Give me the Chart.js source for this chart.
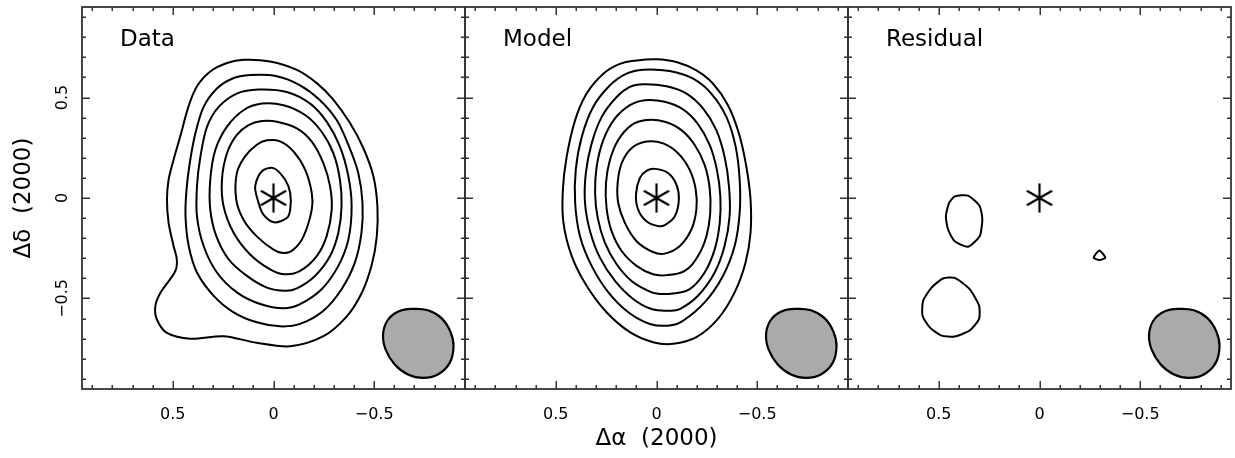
<!DOCTYPE html>
<html>
<head>
<script src="https://cdn.jsdelivr.net/npm/chart.js@4/dist/chart.umd.min.js"></script>
<style>
	body { margin: 0; background: #fff; }
	#wrap { position: relative; width: 1235px; height: 458px; }
	#wrap canvas { position: absolute; left: 0; top: 0; }
</style>
</head>
<body>
<div id="wrap">
	<canvas id="p0" width="1235" height="458"></canvas>
	<canvas id="p1" width="1235" height="458"></canvas>
	<canvas id="p2" width="1235" height="458"></canvas>
</div>
<script>
// offsets in arcsec, x axis runs east (+) to west (-)
var axisRange = [-0.951, 0.951];
var tickStep = 0.1;
var panelNames = ['Data', 'Model', 'Residual'];
var xTitle = 'Δα  (2000)';
var yTitle = 'Δδ  (2000)';
var sourcePos = [[0, 0]];

// contours, [dRA, dDec]
var dataC1 = [[0.149,0.688],[0.017,0.680],[-0.116,0.638],[-0.215,0.572],[-0.298,0.489],[-0.380,0.373],[-0.446,0.249],[-0.496,0.108],[-0.516,-0.041],[-0.513,-0.191],[-0.488,-0.332],[-0.438,-0.473],[-0.364,-0.589],[-0.248,-0.688],[-0.083,-0.738],[0.083,-0.721],[0.248,-0.688],[0.413,-0.701],[0.529,-0.672],[0.579,-0.605],[0.587,-0.539],[0.562,-0.473],[0.488,-0.365],[0.480,-0.307],[0.496,-0.240],[0.521,-0.124],[0.529,-0.008],[0.521,0.091],[0.496,0.191],[0.463,0.307],[0.422,0.456],[0.380,0.556],[0.314,0.630],[0.231,0.672]];
var dataC2 = [[0.116,0.612],[-0.017,0.606],[-0.132,0.561],[-0.231,0.487],[-0.314,0.388],[-0.372,0.264],[-0.421,0.124],[-0.442,-0.025],[-0.437,-0.173],[-0.404,-0.322],[-0.338,-0.454],[-0.248,-0.561],[-0.132,-0.627],[-0.033,-0.639],[0.083,-0.619],[0.198,-0.569],[0.297,-0.487],[0.380,-0.371],[0.421,-0.239],[0.437,-0.091],[0.432,0.041],[0.416,0.173],[0.388,0.322],[0.347,0.454],[0.281,0.545],[0.206,0.594]];
var dataC3 = [[0.074,0.540],[-0.066,0.528],[-0.182,0.470],[-0.264,0.380],[-0.330,0.256],[-0.372,0.107],[-0.388,-0.041],[-0.372,-0.206],[-0.322,-0.338],[-0.239,-0.454],[-0.132,-0.528],[-0.050,-0.549],[0.066,-0.528],[0.182,-0.470],[0.281,-0.371],[0.347,-0.239],[0.380,-0.091],[0.380,0.058],[0.363,0.206],[0.330,0.355],[0.272,0.454],[0.182,0.520]];
var dataC4 = [[0.058,0.470],[-0.050,0.462],[-0.157,0.413],[-0.239,0.330],[-0.297,0.223],[-0.330,0.091],[-0.338,-0.041],[-0.322,-0.173],[-0.281,-0.289],[-0.206,-0.388],[-0.116,-0.450],[-0.058,-0.462],[0.033,-0.446],[0.132,-0.388],[0.223,-0.305],[0.284,-0.190],[0.314,-0.058],[0.314,0.091],[0.289,0.239],[0.231,0.355],[0.149,0.437]];
var dataC5 = [[0.058,0.383],[-0.017,0.380],[-0.116,0.347],[-0.190,0.281],[-0.248,0.173],[-0.281,0.058],[-0.289,-0.058],[-0.264,-0.190],[-0.215,-0.289],[-0.132,-0.363],[-0.058,-0.380],[0.017,-0.355],[0.116,-0.281],[0.198,-0.173],[0.248,-0.041],[0.256,0.091],[0.231,0.223],[0.182,0.314],[0.124,0.363]];
var dataC6 = [[0.033,0.287],[-0.033,0.282],[-0.099,0.232],[-0.157,0.141],[-0.190,0.025],[-0.190,-0.058],[-0.149,-0.191],[-0.099,-0.257],[-0.050,-0.274],[0.000,-0.257],[0.083,-0.191],[0.149,-0.108],[0.185,-0.008],[0.182,0.124],[0.141,0.207],[0.083,0.265]];
var dataC7 = [[0.058,0.133],[0.000,0.149],[-0.058,0.091],[-0.083,0.025],[-0.083,-0.058],[-0.066,-0.100],[-0.003,-0.121],[0.050,-0.083],[0.074,-0.025],[0.091,0.058]];

var modelC1 = [[0.099,0.685],[0.000,0.691],[-0.099,0.677],[-0.198,0.635],[-0.281,0.569],[-0.355,0.462],[-0.409,0.322],[-0.446,0.157],[-0.467,-0.008],[-0.467,-0.173],[-0.442,-0.322],[-0.388,-0.470],[-0.305,-0.602],[-0.198,-0.693],[-0.083,-0.726],[0.017,-0.718],[0.132,-0.668],[0.248,-0.569],[0.347,-0.437],[0.421,-0.289],[0.462,-0.124],[0.465,0.041],[0.446,0.206],[0.404,0.388],[0.347,0.520],[0.264,0.619],[0.182,0.668]];
var modelC2 = [[0.066,0.639],[-0.066,0.632],[-0.182,0.594],[-0.272,0.520],[-0.347,0.404],[-0.393,0.256],[-0.413,0.091],[-0.413,-0.074],[-0.388,-0.239],[-0.330,-0.388],[-0.239,-0.520],[-0.132,-0.611],[-0.066,-0.635],[0.033,-0.627],[0.140,-0.569],[0.239,-0.470],[0.322,-0.338],[0.380,-0.190],[0.404,-0.025],[0.401,0.140],[0.371,0.305],[0.314,0.454],[0.231,0.561],[0.149,0.619]];
var modelC3 = [[0.066,0.566],[-0.050,0.556],[-0.149,0.520],[-0.231,0.446],[-0.297,0.338],[-0.338,0.206],[-0.360,0.058],[-0.363,-0.091],[-0.338,-0.239],[-0.289,-0.371],[-0.206,-0.487],[-0.116,-0.553],[-0.066,-0.561],[0.025,-0.553],[0.116,-0.503],[0.206,-0.413],[0.281,-0.297],[0.330,-0.165],[0.355,-0.025],[0.351,0.124],[0.322,0.272],[0.272,0.404],[0.198,0.503],[0.132,0.553]];
var modelC4 = [[0.058,0.487],[-0.041,0.479],[-0.132,0.441],[-0.206,0.368],[-0.264,0.264],[-0.300,0.140],[-0.317,0.008],[-0.314,-0.124],[-0.289,-0.256],[-0.239,-0.371],[-0.165,-0.454],[-0.083,-0.475],[-0.008,-0.477],[0.041,-0.462],[0.124,-0.413],[0.198,-0.330],[0.256,-0.223],[0.292,-0.099],[0.305,0.025],[0.297,0.157],[0.264,0.289],[0.206,0.396],[0.132,0.462]];
var modelC5 = [[0.050,0.388],[-0.041,0.380],[-0.124,0.338],[-0.190,0.264],[-0.239,0.165],[-0.264,0.050],[-0.267,-0.074],[-0.248,-0.190],[-0.206,-0.289],[-0.140,-0.363],[-0.050,-0.384],[0.017,-0.380],[0.099,-0.338],[0.173,-0.264],[0.223,-0.165],[0.248,-0.050],[0.251,0.074],[0.231,0.190],[0.190,0.289],[0.124,0.363]];
var modelC6 = [[0.050,0.281],[-0.033,0.272],[-0.107,0.223],[-0.165,0.140],[-0.195,0.041],[-0.198,-0.058],[-0.173,-0.157],[-0.116,-0.239],[-0.041,-0.277],[0.017,-0.269],[0.099,-0.215],[0.157,-0.124],[0.190,-0.025],[0.193,0.074],[0.173,0.173],[0.124,0.248]];
var modelC7 = [[0.008,0.145],[-0.058,0.124],[-0.099,0.066],[-0.111,-0.008],[-0.091,-0.091],[-0.041,-0.135],[-0.008,-0.140],[0.050,-0.116],[0.091,-0.058],[0.102,0.017],[0.083,0.099],[0.050,0.135]];

var residC1 = [[0.421,0.008],[0.355,0.012],[0.297,-0.041],[0.284,-0.107],[0.297,-0.190],[0.355,-0.243],[0.421,-0.215],[0.454,-0.157],[0.465,-0.091],[0.449,-0.025]];
var residC2 = [[0.479,-0.401],[0.421,-0.398],[0.347,-0.454],[0.300,-0.536],[0.300,-0.602],[0.347,-0.660],[0.421,-0.690],[0.487,-0.685],[0.545,-0.644],[0.581,-0.586],[0.578,-0.512],[0.536,-0.446]];
var residC3 = [[-0.297,-0.261],[-0.327,-0.297],[-0.297,-0.309],[-0.269,-0.297]];

// restoring beam outline
var beam = [[-0.692,-0.552],[-0.767,-0.559],[-0.833,-0.597],[-0.878,-0.664],[-0.894,-0.738],[-0.875,-0.821],[-0.816,-0.879],[-0.742,-0.896],[-0.668,-0.879],[-0.602,-0.829],[-0.557,-0.755],[-0.544,-0.680],[-0.566,-0.610],[-0.620,-0.565]];

var panelLeft = [82, 465, 848];
var panelRight = [465, 848, 1231];
var plotTop = 7, plotBottom = 389;
var FONT = 'DejaVu Sans';

function isMajor(v) { return Math.abs(v * 2 - Math.round(v * 2)) < 1e-6; }
function fmt(v) {
	if (Math.abs(v) < 1e-6) return '0';
	return (v < 0 ? '\u2212' : '') + Math.abs(v).toFixed(1);
}
// wrap the ring so the curve closes smoothly: last, all, first, second
// (the two padding segments get hidden below)
function ring(a) {
	var n = a.length;
	var seq = [a[n - 1]].concat(a, [a[0], a[1]]);
	return seq.map(function (p) { return { x: p[0], y: p[1] }; });
}
function ringSegment(n, color) {
	return {
		borderColor: function (s) {
			return (s.p0DataIndex === 0 || s.p0DataIndex === n + 1) ? 'rgba(0,0,0,0)' : color;
		}
	};
}

// six armed asterisk for the source position
var star = document.createElement('canvas');
star.width = 34; star.height = 34;
(function () {
	var c = star.getContext('2d');
	c.strokeStyle = '#000'; c.lineWidth = 2.2; c.lineCap = 'butt';
	[90, 30, 150].forEach(function (a) {
		var r = 14.6, t = a * Math.PI / 180;
		c.beginPath();
		c.moveTo(17 + r * Math.cos(t), 17 - r * Math.sin(t));
		c.lineTo(17 - r * Math.cos(t), 17 + r * Math.sin(t));
		c.stroke();
	});
})();

// inward ticks on all four sides, frame and panel name
var decoPlugin = {
	id: 'deco',
	afterDraw: function (chart) {
		var ca = chart.chartArea, ctx = chart.ctx;
		var xs = chart.scales.x, ys = chart.scales.y;
		var cfg = chart.options.plugins.deco;
		ctx.save();
		ctx.strokeStyle = '#333';
		ctx.lineWidth = 1.5;
		ctx.beginPath();
		xs.ticks.forEach(function (t) {
			var px = Math.round(xs.getPixelForValue(t.value)) + 0.25;
			var len = isMajor(t.value) ? 8 : 4;
			ctx.moveTo(px, ca.bottom); ctx.lineTo(px, ca.bottom - len);
			ctx.moveTo(px, ca.top); ctx.lineTo(px, ca.top + len);
		});
		ys.ticks.forEach(function (t) {
			var py = Math.round(ys.getPixelForValue(t.value)) + 0.25;
			var len = isMajor(t.value) ? 8 : 4;
			ctx.moveTo(ca.left, py); ctx.lineTo(ca.left + len, py);
			ctx.moveTo(ca.right, py); ctx.lineTo(ca.right - len, py);
		});
		ctx.stroke();
		ctx.lineWidth = 1.8;
		ctx.strokeRect(ca.left, ca.top, ca.right - ca.left, ca.bottom - ca.top);

		ctx.fillStyle = '#000';
		ctx.font = '23px "' + FONT + '"';
		ctx.textAlign = 'left';
		ctx.textBaseline = 'alphabetic';
		ctx.fillText(cfg.name, ca.left + 38, ca.top + 39);

		if (cfg.yLabels) {
			ctx.font = '16px "' + FONT + '"';
			ctx.textAlign = 'center';
			ctx.textBaseline = 'middle';
			ys.ticks.forEach(function (t) {
				if (!isMajor(t.value)) return;
				ctx.save();
				ctx.translate(ca.left - 19, ys.getPixelForValue(t.value));
				ctx.rotate(-Math.PI / 2);
				ctx.fillText(fmt(t.value), 0, 0);
				ctx.restore();
			});
		}
		ctx.restore();
	}
};

function makePanel(i, contours, tension) {
	var ds = contours.map(function (c) {
		return { data: ring(c), showLine: true, borderColor: '#000', borderWidth: 2,
			segment: ringSegment(c.length, '#000'),
			pointRadius: 0, tension: tension, fill: false };
	});
	ds.push({ data: ring(beam), showLine: true, borderColor: '#000', borderWidth: 2.2,
		segment: ringSegment(beam.length, '#000'),
		backgroundColor: '#aaaaaa', fill: 'shape', pointRadius: 0, tension: 0.4 });
	ds.push({ data: sourcePos.map(function (p) { return { x: p[0], y: p[1] }; }),
		pointStyle: star, pointRadius: 15, showLine: false });

	new Chart(document.getElementById('p' + i), {
		type: 'scatter',
		data: { datasets: ds },
		options: {
			responsive: false,
			animation: false,
			events: [],
			layout: { autoPadding: false,
				padding: { left: i == 0 ? 0 : panelLeft[i], right: 1235 - panelRight[i], top: plotTop, bottom: 0 } },
			plugins: {
				legend: { display: false },
				tooltip: { enabled: false },
				deco: { name: panelNames[i], yLabels: i == 0 }
			},
			scales: {
				x: {
					type: 'linear', min: axisRange[0], max: axisRange[1], reverse: true,
					grid: { display: false }, border: { display: false },
					ticks: {
						stepSize: tickStep, includeBounds: false, autoSkip: false,
						maxRotation: 0, minRotation: 0, padding: 8, color: '#000',
						font: { family: FONT, size: 16 },
						callback: function (v) { return isMajor(v) ? fmt(v) : ''; }
					},
					title: { display: i == 1, text: xTitle, color: '#000',
						font: { family: FONT, size: 23 }, padding: { top: 0, bottom: 5 } },
					afterFit: function (s) { s.height = 458 - plotBottom; }
				},
				y: {
					type: 'linear', min: axisRange[0], max: axisRange[1],
					grid: { display: false }, border: { display: false },
					ticks: { stepSize: tickStep, includeBounds: false, display: false },
					title: { display: i == 0, text: yTitle, color: '#000',
						font: { family: FONT, size: 23 }, padding: { top: 10, bottom: 0 } },
					afterFit: function (s) { s.width = i == 0 ? panelLeft[0] : 0; }
				}
			}
		},
		plugins: [decoPlugin]
	});
}

makePanel(0, [dataC1, dataC2, dataC3, dataC4, dataC5, dataC6, dataC7], 0.3);
makePanel(1, [modelC1, modelC2, modelC3, modelC4, modelC5, modelC6, modelC7], 0.4);
makePanel(2, [residC1, residC2, residC3], 0.2);
</script>
</body>
</html>
